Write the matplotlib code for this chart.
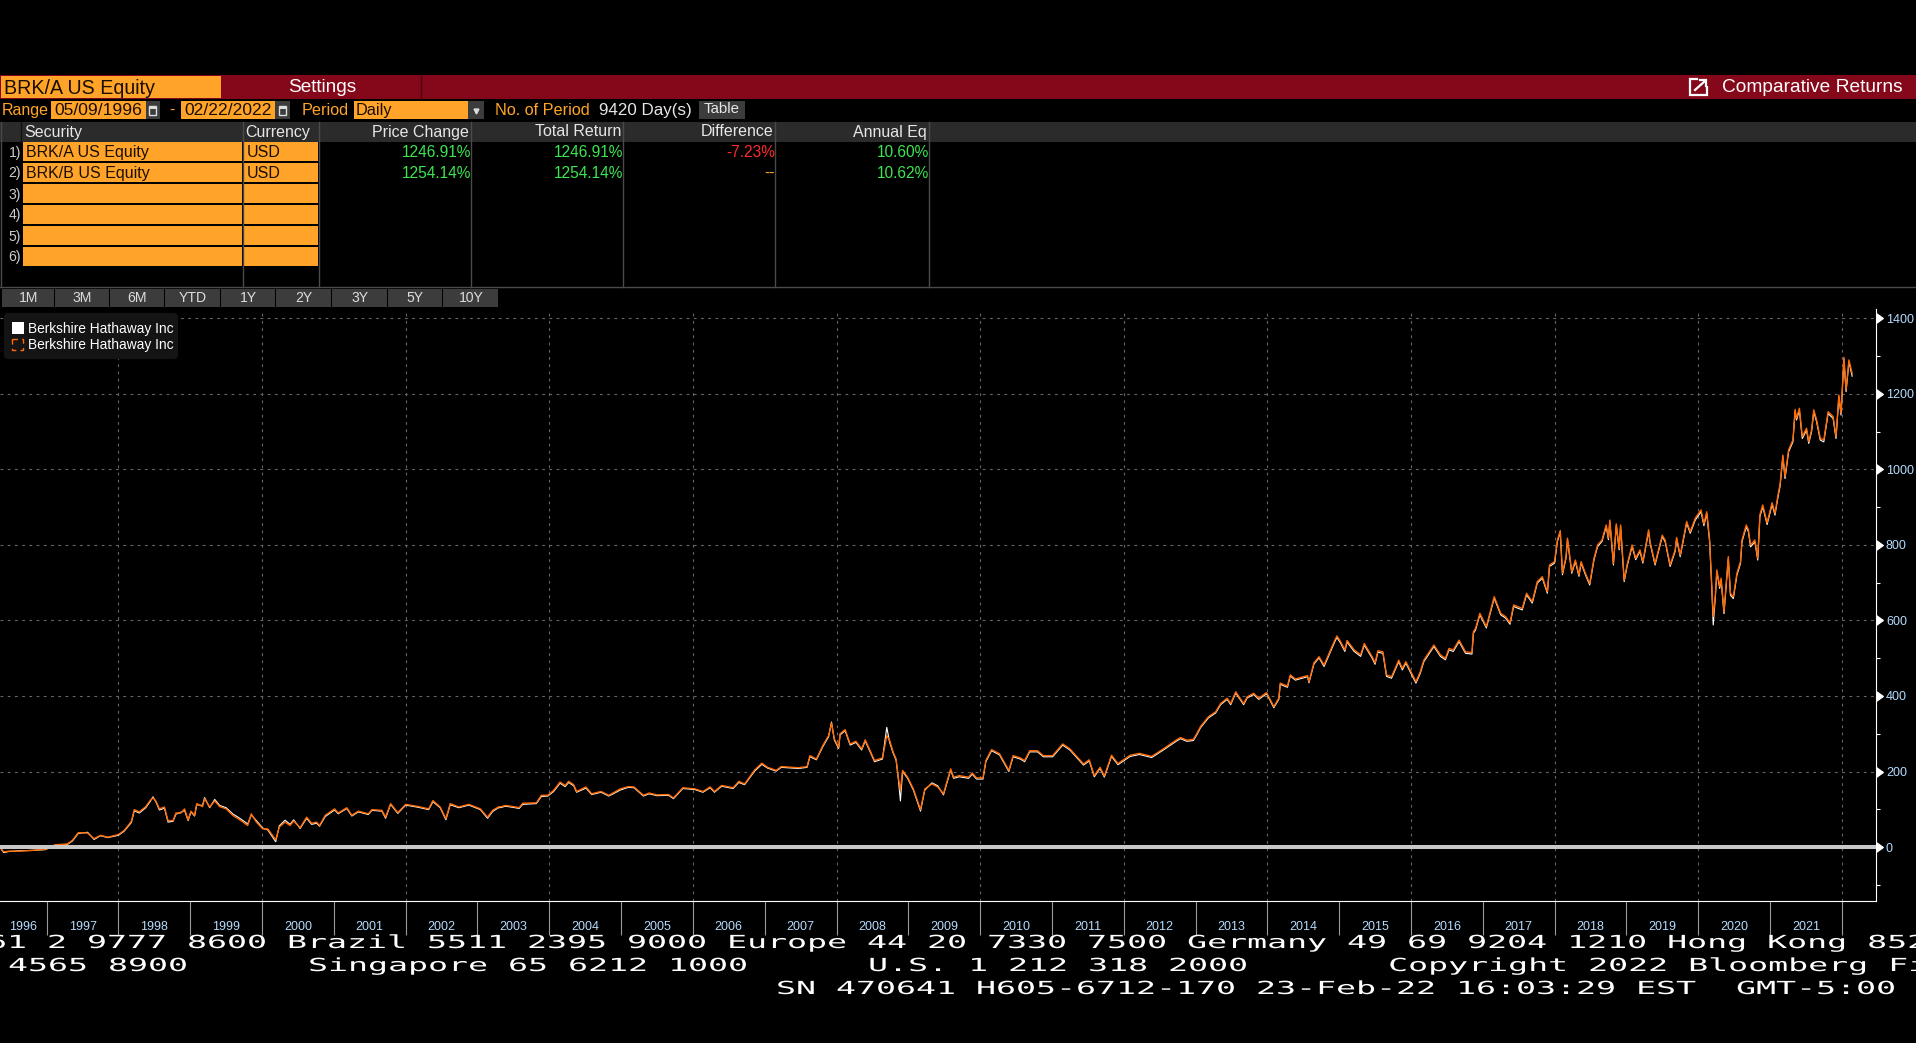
import matplotlib
matplotlib.use('Agg')
import matplotlib.pyplot as plt
from matplotlib.patches import Rectangle, FancyBboxPatch
from matplotlib.patheffects import AbstractPathEffect
from matplotlib.ticker import FixedLocator, FixedFormatter
from matplotlib.transforms import Affine2D

W, H = 1916, 1043
ORANGE = '#ffa428'
RED = '#85081a'
GREEN = '#3ce650'
BLUE = '#b4dcff'
plt.rcParams['font.family'] = ['Liberation Sans', 'DejaVu Sans']

# decimal years and % return
years_1 = [1996.35,1996.40,1996.47,1996.61,1996.80,1996.98,1997.12,1997.29,1997.36,1997.44,1997.57,1997.66,1997.75,1997.85,1998.00,1998.08,1998.18,1998.22,1998.29,1998.38,
           1998.44,1998.48,1998.52,1998.57,1998.64,1998.69,1998.76,1998.80,1998.87,1998.92,1998.97,1999.01,1999.06,1999.09,1999.17,1999.20,1999.27,1999.34,1999.41,1999.50,
           1999.59,1999.69,1999.80,1999.85,1999.92,2000.01,2000.08,2000.19,2000.24,2000.32,2000.39,2000.44,2000.53,2000.62,2000.69,2000.76,2000.80,2000.88,2001.01,2001.06,
           2001.18,2001.25,2001.34,2001.48,2001.53,2001.67,2001.72,2001.79,2001.89,2002.00,2002.18,2002.32,2002.38,2002.48,2002.56,2002.62,2002.74,2002.88,2003.04,2003.14,2003.21,2003.30]
brk_b_1 = [0,-13,-11,-11,-9,-6,6,8,18,38,37,22,31,26,33,44,68,99,93,107,
           123,130,122,101,106,70,70,90,90,101,72,95,84,115,107,128,106,122,107,101,
           84,72,57,88,66,48,48,19,53,66,57,69,51,79,63,66,57,84,101,90,
           104,84,95,88,99,97,79,115,91,113,107,101,123,106,75,115,106,113,101,79,97,107]
brk_a_1 = [0,-15,-12,-10,-9,-7,5,7,16,36,39,20,30,25,31,42,65,96,90,104,
           120,133,120,98,103,66,68,87,92,97,70,93,82,112,110,131,104,126,110,104,
           88,76,61,85,70,50,45,14,56,71,60,72,49,76,60,63,55,81,98,88,
           102,82,93,86,97,95,76,113,89,111,105,99,120,104,72,112,104,111,99,76,94,105]

years_2 = [2003.31,2003.39,2003.50,2003.58,2003.63,2003.82,2003.89,2003.98,2004.06,2004.15,2004.22,2004.27,2004.34,2004.38,2004.51,2004.59,2004.72,2004.83,2004.99,2005.10,
           2005.18,2005.31,2005.39,2005.50,2005.66,2005.73,2005.86,2006.03,2006.14,2006.24,2006.30,2006.40,2006.56,2006.64,2006.72,2006.86,2006.96,2007.04,2007.16,2007.23,
           2007.47,2007.59,2007.63,2007.72,2007.81,2007.89,2007.93,2007.97,2008.03,2008.05,2008.12,2008.19,2008.27,2008.35,2008.40,2008.53,2008.64,2008.70,2008.74,2008.79,
           2008.83,2008.86,2008.89,2008.92,2008.99,2009.07,2009.15,2009.17,2009.23,2009.33,2009.41,2009.49,2009.59,2009.63,2009.71,2009.84,2009.89,2009.95,2010.04,2010.08,
           2010.16,2010.27,2010.40,2010.46,2010.56,2010.62,2010.69,2010.80,2010.88,2011.01,2011.15,2011.25,2011.44,2011.52,2011.59,2011.67]
brk_b_2 = [106,110,107,104,116,117,137,137,150,172,163,174,165,147,159,141,147,137,154,160,
           159,137,143,138,139,130,157,154,147,159,147,163,157,174,167,204,222,211,203,213,
           210,213,242,233,269,295,328,286,264,300,311,273,280,260,284,229,236,295,282,251,
           233,185,150,203,185,154,110,99,154,167,159,141,207,185,189,185,196,183,183,229,
           258,247,203,242,236,229,255,255,242,242,273,260,220,231,189,211]
brk_a_2 = [104,108,105,102,113,115,134,135,147,169,160,171,162,145,156,139,145,135,151,158,
           157,135,141,136,137,128,155,152,145,157,145,161,155,171,165,201,219,209,201,211,
           208,211,239,231,266,292,331,283,261,297,308,270,277,257,281,226,233,317,277,248,
           230,182,122,200,182,151,106,95,151,170,162,138,204,182,186,182,193,180,180,226,
           255,244,200,239,233,226,252,252,239,239,270,257,217,228,186,208]

years_3 = [2011.73,2011.83,2011.92,2012.09,2012.22,2012.39,2012.56,2012.73,2012.79,2012.88,2012.97,2013.02,2013.07,2013.18,2013.28,2013.35,2013.44,2013.49,2013.56,2013.67,
           2013.72,2013.81,2013.88,2013.99,2014.09,2014.16,2014.18,2014.28,2014.32,2014.39,2014.56,2014.58,2014.65,2014.72,2014.79,2014.88,2014.94,2014.97,2015.02,2015.08,
           2015.11,2015.21,2015.30,2015.35,2015.46,2015.50,2015.54,2015.61,2015.66,2015.73,2015.83,2015.88,2015.93,2016.00,2016.07,2016.13,2016.18,2016.32,2016.41,2016.48,
           2016.53,2016.59,2016.67,2016.76,2016.85,2016.87,2016.90,2016.96,2017.05,2017.16,2017.25]
brk_b_3 = [188,243,221,243,248,240,261,283,290,283,285,301,319,345,358,380,394,380,411,380,
           398,407,394,409,372,394,434,426,456,445,454,438,488,504,482,522,548,559,544,522,
           547,522,509,539,504,488,520,517,456,451,495,473,491,464,438,464,495,535,509,500,
           526,522,548,517,515,570,579,619,584,663,619]
brk_a_3 = [185,240,218,240,245,237,258,280,287,280,282,298,316,342,355,377,391,377,408,377,
           395,404,391,406,369,391,431,423,453,442,451,435,485,501,478,518,544,555,540,518,
           543,518,505,535,500,484,516,513,452,447,491,469,487,460,434,460,491,531,505,496,
           522,518,544,513,511,566,575,615,580,659,615]

years_4 = [2017.32,2017.38,2017.43,2017.55,2017.61,2017.69,2017.76,2017.83,2017.90,2017.93,2018.00,2018.04,2018.08,2018.11,2018.16,2018.18,2018.24,2018.29,2018.34,2018.37,
           2018.43,2018.49,2018.55,2018.60,2018.66,2018.72,2018.75,2018.77,2018.82,2018.86,2018.90,2018.92,2018.97,2019.01,2019.08,2019.13,2019.19,2019.23,2019.31,2019.33,
           2019.40,2019.50,2019.54,2019.61,2019.68,2019.70,2019.75,2019.84,2019.89,2019.96,2020.04,2020.08,2020.12,2020.16,2020.19,2020.21,2020.24,2020.26,2020.30,2020.32,
           2020.36,2020.42,2020.45,2020.49,2020.54,2020.59,2020.61,2020.67,2020.70,2020.73,2020.79,2020.83,2020.86,2020.90,2020.96,2021.03,2021.07,2021.12,2021.14,2021.18,
           2021.21,2021.26,2021.32,2021.35,2021.37,2021.41,2021.45,2021.51,2021.54,2021.58,2021.61,2021.65,2021.70,2021.75,2021.81,2021.88,2021.92,2021.96,2021.99,2022.03,
           2022.06,2022.10,2022.145]
brk_b_4 = [610,594,641,632,672,650,703,716,676,747,756,813,838,725,769,818,729,760,721,756,
           725,698,765,800,813,853,818,866,751,856,791,853,707,747,800,765,787,756,840,809,
           751,826,813,747,787,820,773,862,835,871,893,856,888,813,690,610,668,734,690,712,
           623,769,672,663,725,756,813,853,840,800,813,765,880,906,859,912,884,941,959,1038,
           981,1052,1078,1159,1136,1162,1087,1109,1074,1105,1158,1131,1083,1078,1153,1140,1087,1197,1149,1297,
           1211,1290,1254]
brk_a_4 = [606,590,637,628,668,646,699,712,672,743,752,809,834,721,765,814,725,756,717,752,
           721,694,761,796,809,849,814,862,747,852,787,849,703,743,796,761,783,752,836,805,
           747,822,809,743,783,816,769,858,831,866,888,851,883,808,685,588,663,729,685,707,
           618,764,667,658,720,751,808,848,835,795,808,760,875,901,854,907,879,936,954,1033,
           976,1047,1073,1154,1131,1157,1082,1104,1069,1100,1153,1126,1078,1073,1148,1135,1082,1192,1144,1292,
           1206,1285,1247]

# table
securities = ['BRK/A US Equity', 'BRK/B US Equity']
price_change = ['1246.91%', '1254.14%']
total_return = ['1246.91%', '1254.14%']
difference = ['-7.23%', '--']
annual_eq = ['10.60%', '10.62%']
range_buttons = ['1M', '3M', '6M', 'YTD', '1Y', '2Y', '3Y', '5Y', '10Y']
button_edges = [2, 55, 110, 165, 221, 276, 332, 388, 443, 499]
row_tops = [142, 163, 184, 205, 226, 247]

footer_1 = '61 2 9777 8600 Brazil 5511 2395 9000 Europe 44 20 7330 7500 Germany 49 69 9204 1210 Hong Kong 852'
footer_2 = '4565 8900      Singapore 65 6212 1000      U.S. 1 212 318 2000       Copyright 2022 Bloomberg Fi'
footer_3 = 'SN 470641 H605-6712-170 23-Feb-22 16:03:29 EST  GMT-5:00'


class WideText(AbstractPathEffect):
    # terminal font is much wider than anything installed, stretch the glyphs
    def __init__(self, x0, sx):
        super().__init__()
        self.x0 = x0
        self.sx = sx

    def draw_path(self, renderer, gc, tpath, affine, rgbFace=None):
        t = affine + Affine2D().translate(-self.x0, 0).scale(self.sx, 1).translate(self.x0, 0)
        renderer.draw_path(gc, tpath, t, rgbFace)


fig = plt.figure(figsize=(W / 100, H / 100), dpi=100, facecolor='black')

# chart
ax = fig.add_axes([0, (H - 901) / H, 1875.5 / W, (901 - 309) / H], facecolor='black')
ax.plot(years_1 + years_2 + years_3 + years_4, brk_a_1 + brk_a_2 + brk_a_3 + brk_a_4, color='white', lw=0.8, zorder=3)
ax.plot(years_1 + years_2 + years_3 + years_4, brk_b_1 + brk_b_2 + brk_b_3 + brk_b_4, color='#ff6a00', lw=1.0, zorder=4)
ax.axhline(0, color='#c8c8c8', lw=2.9, zorder=5)
ax.set_xlim(1996.35, 2022.47)
ax.set_ylim(-143, 1425)

for yr in range(1998, 2023, 2):
    ax.axvline(yr, color='#666666', lw=0.8, ls=(0, (2.5, 4)), zorder=1)
for val in range(200, 1401, 200):
    ax.axhline(val, color='#666666', lw=0.8, ls=(0, (2.5, 4)), zorder=1)

for side in ['top', 'left']:
    ax.spines[side].set_visible(False)
ax.spines['right'].set_color('white')
ax.spines['bottom'].set_color('white')

ax.yaxis.tick_right()
ax.yaxis.set_major_locator(FixedLocator(list(range(0, 1401, 200))))
ax.yaxis.set_minor_locator(FixedLocator(list(range(-100, 1400, 200))))
ax.tick_params(axis='y', which='major', colors=BLUE, labelsize=9, length=3, pad=4.5)
ax.tick_params(axis='y', which='minor', color='white', length=3, width=0.8)
for t in ax.yaxis.get_major_ticks():
    t.tick2line.set_marker(9)
    t.tick2line.set_markersize(7)
    t.tick2line.set_markerfacecolor('white')
    t.tick2line.set_markeredgecolor('white')

ax.xaxis.set_major_locator(FixedLocator(list(range(1997, 2023))))
ax.xaxis.set_major_formatter(FixedFormatter([]))
ax.xaxis.set_minor_locator(FixedLocator([1996.67] + [y + 0.5 for y in range(1997, 2022)]))
ax.xaxis.set_minor_formatter(FixedFormatter([str(y) for y in range(1996, 2022)]))
ax.tick_params(axis='x', which='major', color='#9a9a9a', length=24.5, width=0.8)
ax.tick_params(axis='x', which='minor', colors=BLUE, length=0, labelsize=9, pad=14.5)

# everything around the chart, in picture pixels
ui = fig.add_axes([0, 0, 1, 1], facecolor='none')
ui.set_xlim(0, W)
ui.set_ylim(H, 0)
ui.axis('off')


def box(x0, y0, x1, y1, color, **kw):
    ui.add_patch(Rectangle((x0, y0), x1 - x0, y1 - y0, facecolor=color, edgecolor='none', **kw))


def txt(x, y, s, px, color, ha='left', **kw):
    return ui.text(x, y, s, fontsize=px * 0.72, color=color, ha=ha, va='center', **kw)


# title bar
box(0, 75, W, 99, RED)
box(1, 76, 221, 98, ORANGE)
ui.plot([421.5, 421.5], [75, 99], color='#4a0510', lw=1)
txt(4, 88.5, 'BRK/A US Equity', 19.6, '#1a0e00')
txt(322, 87, 'Settings', 19, 'white', ha='center')
txt(1722, 87, 'Comparative Returns', 19.2, 'white')
ui.plot([1697, 1690, 1690, 1707, 1707], [79, 79, 94.5, 94.5, 87], color='white', lw=1.6, solid_joinstyle='miter')
ui.plot([1695, 1705], [90, 81], color='white', lw=1.6)
ui.plot([1700, 1706, 1706], [80, 80, 85.5], color='white', lw=1.6, solid_joinstyle='miter')

# range row
txt(2, 110.5, 'Range', 16, ORANGE)
box(51, 101, 146, 119, ORANGE)
txt(54, 110.5, '05/09/1996', 17.5, '#1a0e00')
box(146, 101, 160, 119, '#3c3c3c')
txt(172, 110, '-', 16, ORANGE, ha='center')
box(181, 101, 275, 119, ORANGE)
txt(184, 110.5, '02/22/2022', 17.5, '#1a0e00')
box(275, 101, 290, 119, '#3c3c3c')
for cx in [153, 283]:
    ui.add_patch(Rectangle((cx - 3.5, 106), 7, 9, facecolor='none', edgecolor='#dddddd', lw=1))
    box(cx - 3.5, 106, cx + 3.5, 108.5, '#dddddd')
txt(302, 110.5, 'Period', 16.3, ORANGE)
box(354, 101, 468, 119, ORANGE)
txt(356, 110.5, 'Daily', 16.3, '#1a0e00')
box(468, 101, 484, 119, '#3c3c3c')
ui.plot([476], [110.5], marker='v', ms=3.5, color='#dddddd')
txt(495, 110.5, 'No. of Period', 16.3, ORANGE)
txt(599, 110.5, '9420 Day(s)', 17, '#e6e6e6')
box(699, 101, 745, 119, '#3c3c3c')
txt(722, 109, 'Table', 15, '#e6e6e6', ha='center')

# table
box(0, 122, W, 142, '#2b2b2b')
for x in [243, 319, 471, 623, 775, 929]:
    ui.plot([x, x], [122, 287], color='#4a4a4a', lw=1)
ui.plot([0, W], [287, 287], color='#4a4a4a', lw=1)
ui.plot([1, 1], [122, 287], color='#4a4a4a', lw=1)
ui.plot([21, 21], [122, 142], color='#111111', lw=1)
txt(24, 132, 'Security', 16, '#e6e6e6')
txt(245, 132, 'Currency', 16, '#e6e6e6')
txt(469, 132, 'Price Change', 16, '#e6e6e6', ha='right')
txt(621, 132, 'Total Return', 16, '#e6e6e6', ha='right')
txt(774, 132, 'Difference', 16, '#e6e6e6', ha='right')
txt(927, 132, 'Annual Eq', 16, '#e6e6e6', ha='right')
for i, top in enumerate(row_tops):
    box(23, top, 242.5, top + 19, ORANGE)
    box(244, top, 318.5, top + 19, ORANGE)
    txt(15, top + 10.5, f'{i + 1})', 14, '#cccccc', ha='center')
for i, top in enumerate(row_tops[:2]):
    yc = top + 10.5
    txt(26, yc, securities[i], 16, '#1a0e00')
    txt(247, yc, 'USD', 16, '#1a0e00')
    txt(471, yc, price_change[i], 15.5, GREEN, ha='right')
    txt(623, yc, total_return[i], 15.5, GREEN, ha='right')
    txt(775, yc, difference[i], 15.5, '#ff2a2a' if i == 0 else ORANGE, ha='right')
    txt(929, yc, annual_eq[i], 15.5, GREEN, ha='right')

# range buttons
for label, x0, x1 in zip(range_buttons, button_edges[:-1], button_edges[1:]):
    box(x0, 289, x1 - 1, 307, '#3c3c3c')
    txt((x0 + x1) / 2, 298, label, 14, '#dddddd', ha='center')

# legend
ui.add_patch(FancyBboxPatch((6, 315), 170, 42, boxstyle='round,pad=0,rounding_size=2', facecolor='#141414', edgecolor='#141414', lw=3))
box(12, 322, 24, 334, 'white')
ui.add_patch(Rectangle((12.5, 338.5), 11, 11, facecolor='none', edgecolor='#ff6a00', lw=1, ls=(0, (4, 3))))
txt(28, 329.5, 'Berkshire Hathaway Inc', 13.7, 'white')
txt(28, 345.5, 'Berkshire Hathaway Inc', 13.7, 'white')

# footer
for x, y, line in [(-13, 943, footer_1), (8, 966, footer_2), (776, 989, footer_3)]:
    t = txt(x, y, line, 18, 'white', family='DejaVu Sans Mono')
    t.set_path_effects([WideText(x, 20 / (18 * 0.602))])

fig.savefig('out.png', dpi=100, facecolor='black')
